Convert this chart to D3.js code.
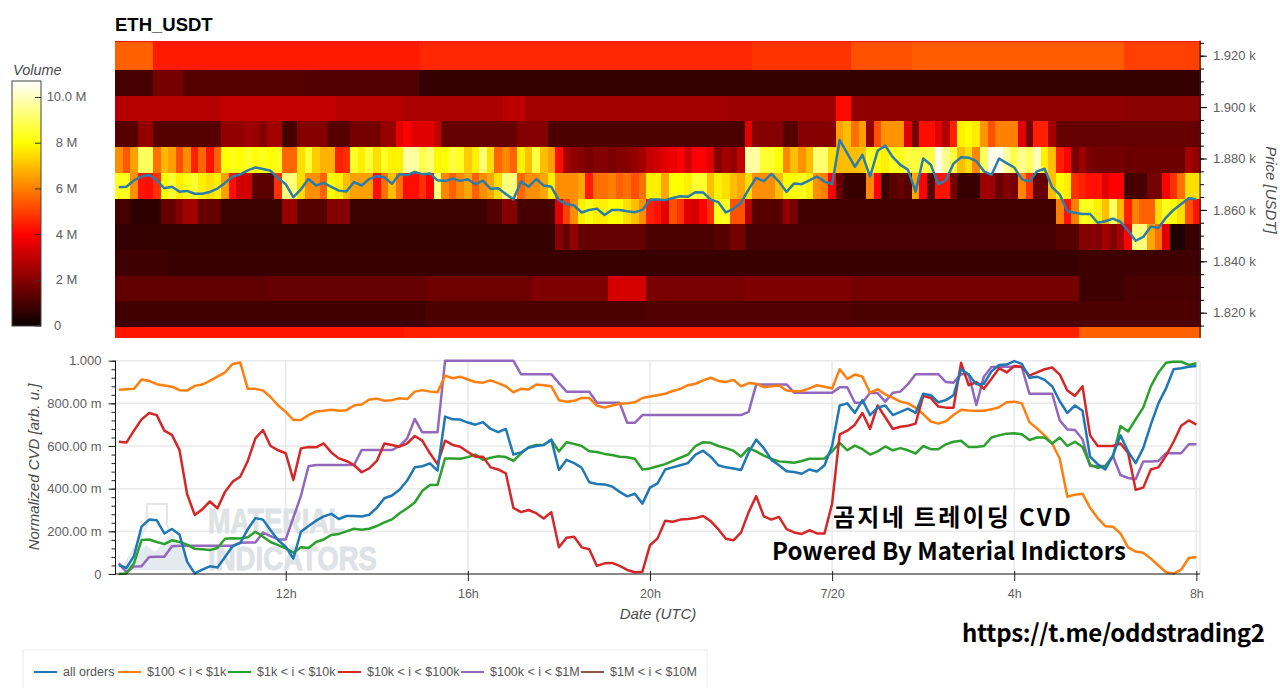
<!DOCTYPE html>
<html>
<head>
<meta charset="utf-8">
<script src="https://cdn.jsdelivr.net/npm/d3@7"></script>
<style>
  html, body { margin: 0; padding: 0; background: #fff; }
  svg { display: block; font-family: "Liberation Sans", Arial, sans-serif; }
  .tick text { fill: #606060; font-size: 13px; }
</style>
</head>
<body>
<svg id="chart" width="1280" height="688"></svg>
<script>
// Price bin edges in USDT, top to bottom.
const binEdges = [1925.9, 1925.3, 1914.4, 1904.4, 1894.4, 1884.4, 1874.4, 1864.4, 1854.4, 1844.4, 1834.4, 1824.4, 1814.4, 1810.3];

// Volume per bin in millions, as flat pairs: first column index of a run, then its value.
const binTop   = [0,4.2];
const bin1920  = [0,5.5, 5,4.4, 40,4.6, 84,4.8, 97,5.25, 105,5.45, 133,5.0];
const bin1910  = [0,1, 5,1.75, 9,1.25, 25,1.15, 40,0.7];
const bin1900  = [0,2.8, 14,3, 29,2.8, 38,2.6, 51,2.9, 54,2.5, 80,2.4, 95,4.15, 97,2.2, 133,2.1];
const bin1890  = [0,1.25, 3,2.25, 5,1.25, 14,2.25, 17,2.4, 19,2, 20,2.5, 22,1, 24,2, 28,1.25, 31,1.75, 35,2.3, 37,3.6, 38,4, 39,3.5, 42,3, 43,1.5, 53,2, 57,1.1, 83,3.5, 84,2, 88,1.25, 90,2, 95,6.5, 96,7, 97,5.75, 98,6.5, 99,2.25, 100,5.25, 101,6.3, 104,3.5, 105,1.75, 106,4.2, 108,3.5, 109,2.75, 110,4.5, 111,7.8, 112,8, 113,7.7, 114,6.3, 115,5.25, 116,6, 119,3.5, 120,1.75, 121,4.5, 123,2.5, 124,1.5];
const bin1880  = [0,6.25, 1,5.4, 2,6.5, 3,9, 5,5.75, 6,6.9, 7,6.5, 8,5.25, 9,6.25, 10,4.5, 11,5.6, 12,4.3, 13,5.5, 14,8, 15,8.3, 16,8, 17,8.4, 18,8.1, 19,8.3, 20,8, 21,8.3, 22,5.6, 24,7.5, 25,8.5, 26,7.2, 27,6.8, 29,4.5, 30,4.7, 31,8.4, 32,7.75, 33,8.6, 34,7.5, 35,8.4, 36,7.8, 38,9.7, 40,8.8, 41,9.2, 42,7.9, 43,8, 44,8.7, 45,8.4, 46,7.2, 47,7.75, 48,9.2, 49,7.5, 50,5.6, 51,6.1, 52,5.5, 53,7.75, 54,7, 55,8.7, 56,7, 57,6.5, 58,4.2, 59,2.5, 60,2.2, 61,2, 62,1.8, 63,2, 65,1.8, 66,2, 68,2.25, 69,2.5, 70,3, 71,3.25, 72,3.5, 73,3.7, 74,4, 75,3.25, 76,4, 78,3.5, 79,2, 80,2.5, 81,2.25, 82,3, 83,9.7, 85,8.5, 87,8, 88,6.1, 89,7, 90,6.3, 91,7, 92,9.2, 94,7.5, 95,6.9, 96,7, 98,7.1, 99,8.4, 100,8, 101,7.75, 102,8.3, 104,8.7, 108,10.5, 109,9.5, 110,8.7, 111,7, 112,7.5, 113,6.1, 114,9, 115,10.5, 117,9.7, 118,8.8, 119,9.5, 120,9, 121,10, 122,7.75, 123,7, 124,4.5, 125,4, 126,1.8, 127,2.4, 128,1.8, 129,1.7, 133,1.6, 141,2.5, 142,2.25];
const bin1870  = [0,8.3, 2,6.25, 3,4.3, 4,4.2, 5,4.75, 6,8, 7,8.5, 8,7.75, 9,8.2, 10,8.5, 11,7.75, 12,7.5, 13,7.75, 14,6.5, 15,4.2, 16,3.25, 18,1.3, 21,4.75, 22,9.3, 24,7.5, 25,6.25, 27,5.5, 28,8, 29,7.75, 30,7, 31,6.5, 34,4.2, 35,5.75, 36,7, 37,5.75, 38,4.2, 40,4.75, 41,4, 42,9.3, 43,6.1, 44,5.5, 45,6.1, 46,6.6, 47,5.5, 48,6.25, 49,6.6, 50,7.5, 51,9.3, 53,5.6, 54,6.25, 56,6.6, 57,7.75, 58,6.25, 61,6.6, 62,4.4, 63,5.75, 65,6, 66,5.5, 67,5.75, 68,5.25, 69,5.75, 70,7.75, 72,6.6, 73,8, 75,7.75, 76,8.5, 78,7, 79,7.75, 80,7.5, 81,7, 82,6.6, 83,7.5, 84,6.25, 87,7, 88,8, 90,8.3, 91,7.75, 92,6.25, 93,6, 94,4, 95,1.5, 96,0.75, 99,6.1, 100,4, 101,0.75, 102,1.25, 103,1.5, 104,1.25, 105,6.6, 106,4, 107,1.25, 108,4.3, 110,1.75, 111,0.75, 114,2.4, 116,1.5, 117,2, 118,1.75, 119,6.1, 120,4.75, 121,1.5, 123,7, 124,8, 125,7.75, 126,4.75, 127,4.5, 128,4.25, 130,3.5, 131,4, 133,1, 136,1.75, 138,4, 139,4.75, 140,5.75, 141,7.5];
const bin1860  = [0,1, 2,0.6, 6,1.5, 8,2, 9,2.5, 11,1.5, 14,0.8, 22,2.25, 24,1.25, 28,2, 31,0.8, 49,1.25, 51,2, 53,1, 58,3.5, 59,5, 60,6.25, 61,7.75, 62,8.2, 63,7.75, 65,8, 67,7.5, 68,7, 69,6.25, 70,4.5, 71,4.25, 72,3.5, 73,5.25, 74,4.75, 75,3.5, 76,3.25, 77,4, 78,4.75, 79,8.3, 81,5.25, 83,2.75, 84,1.25, 88,2.25, 89,1.75, 90,0.9, 124,6, 125,4.25, 126,6, 127,8.3, 129,7.75, 130,7, 131,9, 132,6.9, 133,4.5, 134,6, 135,5.5, 137,7.5, 138,8.3, 139,8, 140,7.5, 141,5.25, 142,4.3];
const bin1850  = [0,0.7, 58,2, 59,1.5, 60,2.25, 61,1.5, 70,1.1, 79,1.25, 81,1.75, 83,1, 124,1.25, 127,2, 130,2.5, 131,2, 132,2.5, 133,4, 134,9.3, 136,6.6, 137,5.75, 138,3.5, 139,0.35, 141,0.75];
const bin1840  = [0,0.85, 7,0.75, 127,0.85];
const bin1830  = [0,1.4, 20,1.5, 41,1.65, 55,1.9, 65,3.3, 70,1.8, 83,1.9, 97,1.75, 127,0.85, 133,1.05];
const bin1820  = [0,0.9, 41,1.1, 70,1.15, 97,1.1];
const binLow   = [0,4.35, 38,4.5, 127,5.5];

// One 10-minute sample per column: mid price in USDT.
const priceLine = [1868.8,1869,1871.5,1873,1873.6,1871.6,1868.4,1869,1867.1,1867.4,1866.3,1866.3,1867,1868.3,1870.5,1873,1873.8,1875.4,1876.5,1875.9,1875.2,1872.3,1870,1865,1868,1872,1869.5,1870.5,1869,1867.5,1867.2,1870.8,1869.5,1872,1873.2,1872.7,1870.2,1874,1873.5,1874.8,1873.9,1874.2,1871.5,1871.2,1872.2,1871.3,1871.9,1870,1871.4,1868.2,1868.4,1866.2,1864.1,1871,1869,1872,1869.5,1869,1863.7,1862.3,1861.7,1859,1860,1860.5,1858,1860,1860,1859.5,1859.1,1860,1864,1864,1863.8,1864.6,1865.3,1865.1,1866.9,1866.8,1864,1863,1859,1860.4,1862.8,1868,1872.5,1871.2,1874,1871,1867,1870.3,1870,1871.5,1873,1871,1870,1887.2,1882,1876.8,1881.4,1873,1883,1885,1880.5,1877.5,1875.6,1867.1,1880,1877.6,1870,1871.6,1878,1880.5,1880.3,1879,1875,1873.6,1880,1878.2,1876.5,1872,1871,1875,1876,1868.8,1866,1859.5,1858.9,1858.4,1858.4,1855,1855.6,1856.6,1855.4,1852,1848,1849.5,1853.5,1853,1857,1860,1862.3,1864.5,1864.1];

// Normalized cumulative volume delta per order-size bucket, in thousandths.
const cvdAll = [42,28,85,222,255,252,190,211,185,58,3,20,36,30,80,130,145,210,262,255,205,158,128,72,198,225,250,270,282,258,272,272,270,278,310,355,368,395,438,500,505,519,485,738,725,724,710,700,712,680,665,680,560,570,592,600,605,630,488,535,520,498,430,422,420,410,385,364,376,330,405,425,490,500,510,520,560,578,550,510,500,495,488,570,630,590,535,510,482,478,470,490,480,510,600,790,800,755,815,745,780,790,745,760,775,755,845,838,805,815,838,960,935,890,892,950,980,982,998,985,920,925,910,880,810,755,790,765,550,515,490,555,650,575,520,590,700,800,870,960,965,972,975];
const cvdSmall = [864,866,868,912,905,890,884,878,862,860,882,888,905,925,945,985,992,868,868,860,830,790,760,722,722,745,762,765,770,765,768,790,795,818,822,812,815,824,820,855,862,855,852,930,918,925,912,900,897,908,895,880,852,868,865,888,885,880,815,808,812,825,825,790,780,790,798,800,805,825,832,838,845,858,868,885,892,908,920,905,900,910,880,895,892,876,880,884,860,857,858,870,885,878,870,960,915,935,925,850,866,842,826,808,800,780,750,715,705,716,745,770,766,765,765,772,782,805,808,800,712,682,650,612,540,362,372,376,310,262,224,222,190,125,105,100,72,40,8,2,20,75,80];
const cvdMedium = [0,2,50,159,162,150,140,158,150,138,118,116,112,122,165,168,167,172,198,175,150,135,120,100,125,122,150,162,183,188,200,212,208,212,225,242,256,285,308,335,390,417,418,542,542,540,548,560,535,545,552,548,530,565,595,605,606,628,575,618,610,600,575,572,563,558,550,547,540,490,495,505,515,530,545,560,600,618,615,600,590,578,550,590,575,555,540,528,525,522,530,540,540,542,575,615,580,602,585,560,575,598,580,590,580,565,600,585,585,608,620,625,595,595,600,640,650,658,660,655,628,640,640,612,640,600,620,595,512,498,505,550,694,668,725,780,880,945,990,995,995,980,988];
const cvdLarge = [620,616,672,725,755,745,672,652,581,375,277,303,340,308,385,433,456,530,636,675,600,580,566,441,589,595,594,612,570,542,530,511,477,495,530,612,605,597,612,647,625,566,515,625,605,597,572,550,550,500,490,472,310,290,300,285,260,290,125,170,175,125,116,38,50,52,38,19,8,11,135,167,250,245,255,258,262,272,248,210,165,158,195,290,365,270,255,268,210,195,188,205,190,190,330,655,672,700,755,680,790,735,680,690,695,705,835,825,785,780,780,990,885,900,868,915,965,945,975,972,930,945,960,968,935,860,835,880,650,600,600,600,612,568,395,405,490,500,555,620,695,720,700];
const cvdWhale = [50,8,35,36,80,81,81,130,133,133,133,133,133,133,133,133,147,148,148,194,178,162,162,264,366,505,511,511,511,511,511,511,581,581,581,581,581,600,636,727,664,664,664,1000,1000,1000,1000,1000,1000,1000,1000,1000,1000,937,937,937,937,937,895,855,855,855,855,803,803,803,803,709,709,745,745,745,745,745,745,745,745,745,745,745,745,745,745,760,889,889,889,889,889,850,850,850,850,850,850,875,875,803,803,850,848,808,850,855,890,937,937,937,937,900,897,937,937,792,925,970,972,972,972,970,845,845,845,845,720,678,675,632,506,506,506,553,464,450,444,527,527,530,566,566,566,608,608];
const cvdHuge = [];

const legendLabels = ["all orders", "$100 < i < $1k", "$1k < i < $10k", "$10k < i < $100k", "$100k < i < $1M", "$1M < i < $10M"];
const seriesColors = ["#1f77b4", "#ff7f0e", "#2ca02c", "#d62728", "#9467bd", "#8c564b"];

const priceTicks = [1920, 1900, 1880, 1860, 1840, 1820];
const volumeTicks = [0, 2, 4, 6, 8, 10];
const cvdTicks = [0, 200, 400, 600, 800, 1000];
const hourTicks = [12, 16, 20, 24, 28, 32];
const hourLabels = ["12h", "16h", "20h", "7/20", "4h", "8h"];

const svg = d3.select("#chart");
const COLUMNS = 143;
const START_HOUR = 8.25;
const END_HOUR = 32.08;

const x = d3.scaleLinear().domain([START_HOUR, END_HOUR]).range([115, 1200]);
const yPrice = d3.scaleLinear().domain([1920, 1820]).range([55.7, 312.7]);
const yCvd = d3.scaleLinear().domain([0, 1000]).range([574, 360.7]);
const yVolume = d3.scaleLinear().domain([0, 10.7]).range([325.5, 81]);
const heat = d3.scaleLinear()
  .domain([0, 4, 8, 10.7])
  .range(["#0a0000", "#ff0000", "#ffff00", "#ffffff"]);

const columnHour = i => START_HOUR + i / 6;
const sampleHour = i => START_HOUR + (i + 0.5) / 6;

// Heatmap: expand each run into cells and paint them column by column.
const rows = [binTop, bin1920, bin1910, bin1900, bin1890, bin1880, bin1870, bin1860, bin1850, bin1840, bin1830, bin1820, binLow];
const cells = [];
rows.forEach((pairs, r) => {
  for (let k = 0; k < pairs.length; k += 2) {
    const end = k + 2 < pairs.length ? pairs[k + 2] : COLUMNS;
    for (let c = pairs[k]; c < end; c++) cells.push({ c, r, v: pairs[k + 1] });
  }
});
svg.append("g").attr("shape-rendering", "crispEdges")
  .selectAll("rect").data(cells).join("rect")
  .attr("x", d => x(columnHour(d.c)))
  .attr("width", d => x(columnHour(d.c + 1)) - x(columnHour(d.c)) + 0.5)
  .attr("y", d => yPrice(binEdges[d.r]))
  .attr("height", d => yPrice(binEdges[d.r + 1]) - yPrice(binEdges[d.r]) + 0.3)
  .attr("fill", d => heat(d.v));

const line = d3.line().x((d, i) => x(sampleHour(i)));

svg.append("path").datum(priceLine)
  .attr("fill", "none").attr("stroke", "#2a7cab").attr("stroke-width", 2.5)
  .attr("stroke-linejoin", "round")
  .attr("d", line.y(d => yPrice(d)));

// Price axis on the right edge of the heatmap.
const priceAxisScale = yPrice.copy();
svg.append("g").attr("transform", "translate(1200,0)")
  .call(d3.axisRight(priceAxisScale).tickValues(d3.range(1815, 1926, 5)).tickSize(4).tickFormat(""))
  .call(g => g.select(".domain").attr("d", `M0,${yPrice(binEdges[0])}V${yPrice(binEdges[13])}`).attr("stroke", "#222"));
svg.append("g").attr("transform", "translate(1200,0)")
  .call(d3.axisRight(priceAxisScale).tickValues(priceTicks).tickSize(7).tickPadding(6)
    .tickFormat(d => (d / 1000).toFixed(3) + " k"))
  .call(g => g.select(".domain").remove());

svg.append("text").attr("transform", "translate(1265.5,190) rotate(90)")
  .attr("text-anchor", "middle").attr("font-size", 15).attr("font-style", "italic")
  .attr("fill", "#4a4a4a").text("Price [USDT]");

svg.append("text").attr("x", 115).attr("y", 31)
  .attr("font-size", 18.5).attr("font-weight", 700).attr("fill", "#000").text("ETH_USDT");

// Colour bar.
const defs = svg.append("defs");
const grad = defs.append("linearGradient").attr("id", "heatRamp")
  .attr("x1", 0).attr("x2", 0).attr("y1", 1).attr("y2", 0);
[0, 4, 8, 10.7].forEach(v => grad.append("stop").attr("offset", v / 10.7).attr("stop-color", heat(v)));
svg.append("rect").attr("x", 12).attr("y", 81).attr("width", 29).attr("height", 245)
  .attr("fill", "url(#heatRamp)").attr("stroke", "#444").attr("stroke-width", 1);
svg.append("g").attr("transform", "translate(41,0)")
  .call(d3.axisLeft(yVolume).tickValues(volumeTicks).tickSize(6).tickFormat(""))
  .call(g => g.select(".domain").remove())
  .call(g => g.selectAll("line").attr("stroke", "#333"));
svg.append("g").selectAll("text").data(volumeTicks).join("text")
  .attr("x", d => d === 0 ? 57.5 : 66.5)
  .attr("y", d => yVolume(d) + 4.5)
  .attr("text-anchor", "middle").attr("font-size", 13).attr("fill", "#606060")
  .text(d => d === 0 ? "0" : d === 10 ? "10.0 M" : d + " M");
svg.append("text").attr("x", 13).attr("y", 75)
  .attr("font-size", 14.5).attr("font-style", "italic").attr("fill", "#4a4a4a").text("Volume");

// Lower panel: grid first, then the watermark, then the series.
const grid = svg.append("g").attr("stroke", "#e9e9e9").attr("stroke-width", 1.5);
grid.selectAll(".h").data(cvdTicks.slice(1)).join("line").attr("class", "h")
  .attr("x1", 115).attr("x2", 1200).attr("y1", d => yCvd(d)).attr("y2", d => yCvd(d));
grid.selectAll(".v").data(hourTicks).join("line").attr("class", "v")
  .attr("x1", d => x(d)).attr("x2", d => x(d)).attr("y1", 361).attr("y2", 574);
grid.append("line").attr("x1", 1200).attr("x2", 1200).attr("y1", 361).attr("y2", 574);

const mark = svg.append("g");
mark.append("path").attr("d", "M147,504 H167 V526 L191,569 H122 L147,526 Z")
  .attr("fill", "none").attr("stroke", "#e4e6e8").attr("stroke-width", 2);
mark.append("path").attr("d", "M122,569 L146,545 L155,552 L170,535 L191,569 Z").attr("fill", "#e3ebf0");
mark.append("text").attr("x", 208).attr("y", 533).attr("font-size", 35).attr("font-weight", 700)
  .attr("fill", "#dfe2e5").attr("stroke", "#dfe2e5").attr("stroke-width", 1)
  .attr("textLength", 137).attr("lengthAdjust", "spacingAndGlyphs").text("MATERIAL");
mark.append("text").attr("x", 208).attr("y", 570).attr("font-size", 33).attr("font-weight", 700)
  .attr("fill", "#dfe2e5").attr("stroke", "#dfe2e5").attr("stroke-width", 1)
  .attr("textLength", 169).attr("lengthAdjust", "spacingAndGlyphs").text("INDICATORS");

const cvdSeries = [cvdAll, cvdSmall, cvdMedium, cvdLarge, cvdWhale, cvdHuge];
const drawOrder = [5, 4, 1, 2, 3, 0];
drawOrder.forEach(s => {
  if (!cvdSeries[s].length) return;
  svg.append("path").datum(cvdSeries[s])
    .attr("fill", "none").attr("stroke", seriesColors[s]).attr("stroke-width", 2.5)
    .attr("stroke-linejoin", "round")
    .attr("d", line.y(d => yCvd(d)));
});

// Axes of the lower panel.
svg.append("g").attr("transform", "translate(115.5,0)")
  .call(d3.axisLeft(yCvd).tickValues(d3.range(0, 1001, 40)).tickSize(4).tickFormat(""))
  .call(g => g.select(".domain").attr("d", `M0,${yCvd(1000)}V${yCvd(0)}`).attr("stroke", "#111"))
  .call(g => g.selectAll("line").attr("stroke", "#222"));
svg.append("g").attr("transform", "translate(115.5,0)")
  .call(d3.axisLeft(yCvd).tickValues(cvdTicks).tickSize(7).tickPadding(7)
    .tickFormat(d => d === 0 ? "0" : d === 1000 ? "1.000" : d + ".00 m"))
  .call(g => g.select(".domain").remove())
  .call(g => g.selectAll("line").attr("stroke", "#222"));

svg.append("g").attr("transform", "translate(0,574)")
  .call(d3.axisBottom(x).tickValues(hourTicks).tickSize(7).tickPadding(8)
    .tickFormat((d, i) => hourLabels[i]))
  .call(g => g.select(".domain").attr("d", "M115,0H1200").attr("stroke", "#111"))
  .call(g => g.selectAll("line").attr("y1", -3).attr("stroke", "#222"))
  .call(g => g.selectAll("text").style("font-size", "12.5px"));

svg.append("text").attr("transform", "translate(39,467) rotate(-90)")
  .attr("text-anchor", "middle").attr("font-size", 15).attr("font-style", "italic")
  .attr("fill", "#4a4a4a").text("Normalized CVD [arb. u.]");
svg.append("text").attr("x", 658).attr("y", 619)
  .attr("text-anchor", "middle").attr("font-size", 15).attr("font-style", "italic")
  .attr("fill", "#4a4a4a").text("Date (UTC)");

// Legend.
const legendLine = [34, 118, 228, 338, 461, 581];
svg.append("rect").attr("x", 23).attr("y", 650).attr("width", 684).attr("height", 50)
  .attr("fill", "#fff").attr("stroke", "#ececec");
const items = svg.append("g").selectAll("g").data(legendLabels).join("g")
  .attr("transform", (d, i) => `translate(${legendLine[i]},672)`);
items.append("line").attr("x2", 23).attr("stroke", (d, i) => seriesColors[i]).attr("stroke-width", 2);
items.append("text").attr("x", 29).attr("y", 4).attr("font-size", 12.5).attr("fill", "#555").text(d => d);

// Channel captions over the chart.
const captionFont = '"Noto Sans CJK KR", sans-serif';
svg.append("text").attr("x", 833).attr("y", 526).attr("font-family", captionFont)
  .attr("font-size", 24).attr("font-weight", 700).attr("fill", "#000")
  .attr("textLength", 238).text("곰지네 트레이딩 CVD");
svg.append("text").attr("x", 772).attr("y", 560).attr("font-family", captionFont)
  .attr("font-size", 24).attr("font-weight", 700).attr("fill", "#000")
  .attr("textLength", 354).text("Powered By Material Indictors");
svg.append("text").attr("x", 962).attr("y", 642).attr("font-family", captionFont)
  .attr("font-size", 24).attr("font-weight", 700).attr("fill", "#000")
  .attr("textLength", 303).text("https://t.me/oddstrading2");
</script>
</body>
</html>
